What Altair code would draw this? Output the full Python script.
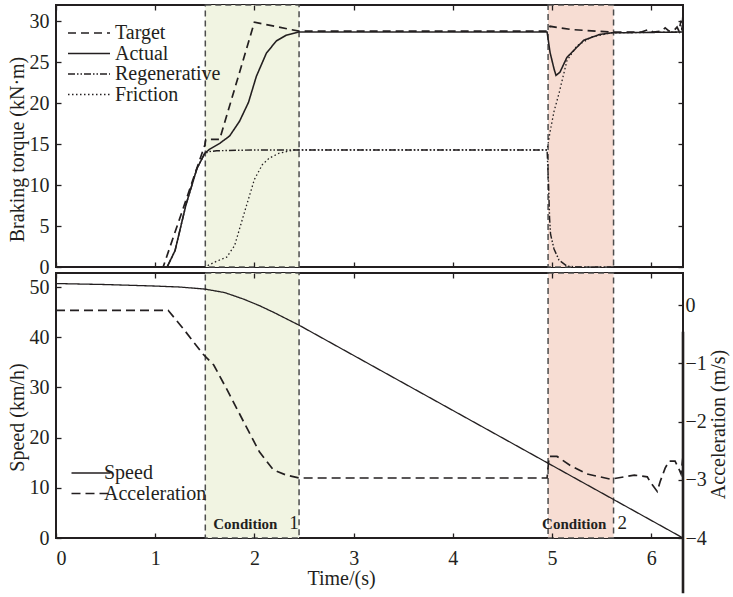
import altair as alt
import pandas as pd

FONT = "Liberation Serif, Times New Roman, serif"
INK = "#231f20"

# ---------------- braking torque (kN·m) ----------------
target_t = [0, 1.08, 1.50, 1.51, 1.65, 2.00, 2.45, 4.95, 4.98, 5.2, 5.6, 5.9, 5.97,
            6.02, 6.1, 6.14, 6.18, 6.23, 6.26, 6.28, 6.30, 6.31, 6.32, 6.32]
target_v = [0, 0, 14.9, 15.6, 15.6, 29.9, 28.8, 28.8, 29.4, 29.0, 28.7, 28.7, 29.0,
            28.7, 28.8, 29.2, 28.8, 28.9, 29.3, 28.8, 30.1, 28.9, 30.9, 19.1]

actual_t = [0, 1.12, 1.2, 1.31, 1.42, 1.5, 1.55, 1.65, 1.75, 1.85, 1.94, 2.02, 2.12,
            2.22, 2.32, 2.45, 4.95, 4.98, 5.02, 5.04, 5.08, 5.15, 5.32, 5.48, 5.6, 6.32]
actual_v = [0, 0, 2.0, 7.6, 12.0, 13.9, 14.4, 15.1, 16.0, 17.8, 20.1, 23.3, 26.1,
            27.6, 28.3, 28.7, 28.7, 26.2, 24.2, 23.4, 23.8, 25.6, 27.7, 28.4, 28.6, 28.7]

regen_t = [0, 1.12, 1.2, 1.31, 1.42, 1.5, 1.55, 1.62, 2.0, 4.95, 4.965, 4.975,
           4.985, 5.02, 5.07, 5.15, 5.25, 6.32]
regen_v = [0, 0, 2.0, 7.6, 12.0, 13.9, 14.1, 14.2, 14.3, 14.3, 10.0, 6.0,
           4.0, 2.2, 0.85, 0.1, 0, 0]

friction_t = [0, 1.5, 1.6, 1.72, 1.8, 1.89, 2.0, 2.08, 2.15, 2.25, 2.4, 4.95, 4.98,
              5.02, 5.07, 5.15, 5.25, 5.4, 5.6, 6.32]
friction_v = [0, 0, 0.6, 1.2, 2.6, 6.3, 10.7, 12.5, 13.3, 13.9, 14.3, 14.3, 16.5,
              19.0, 21.2, 25.2, 27.0, 28.1, 28.6, 28.7]

torque_names = ["Target", "Actual", "Regenerative", "Friction"]
torque_dash = [[8, 5], [1, 0], [7, 2, 1.5, 2, 1.5, 2], [1.5, 2.5]]
torque_width = [1.7, 1.3, 1.3, 1.2]

# ---------------- speed (km/h) and acceleration ----------------
speed_t = [0, 0.5, 1.0, 1.25, 1.5, 1.7, 1.89, 2.05, 2.2, 2.45, 6.32]
speed_v = [50.7, 50.5, 50.2, 50.0, 49.6, 48.9, 47.6, 46.3, 44.9, 42.4, 0]

accel_t = [0, 1.13, 1.28, 1.48, 1.59, 1.72, 1.89, 2.05, 2.19, 2.32, 2.45, 4.95, 4.97,
           5.05, 5.18, 5.35, 5.59, 5.83, 5.96, 5.99, 6.06, 6.09, 6.14, 6.18, 6.24,
           6.28, 6.30, 6.32]
accel_v = [-0.09, -0.09, -0.4, -0.84, -1.03, -1.44, -2.0, -2.52, -2.83, -2.92, -2.97,
           -2.97, -2.6, -2.6, -2.75, -2.9, -2.99, -2.92, -2.95, -3.04, -3.2, -3.03,
           -2.8, -2.68, -2.68, -2.82, -2.9, -2.6]
# final stop: the acceleration trace oscillates over a wide band at the end
accel_tail_t = [6.32, 6.32]
accel_tail_v = [-0.46, -4.95]

kin_names = ["Speed", "Acceleration"]
kin_dash = [[1, 0], [9, 5]]

# ---------------- highlighted operating conditions ----------------
cond_names = ["Condition 1", "Condition 2"]
cond_start = [1.505, 4.96]
cond_end = [2.45, 5.62]
cond_fill = ["#f1f4e2", "#f7ddd3"]
cond_word = ["Condition", "Condition"]
cond_word_t = [1.585, 4.90]
cond_num = ["1", "2"]
cond_num_t = [2.35, 5.66]

# axis ranges and ticks
T_MAX = 6.32
TORQUE_MAX = 32
SPEED_MAX = 52.8
ACC_MIN, ACC_MAX = -4, 0.55
time_ticks = [0, 1, 2, 3, 4, 5, 6]
torque_ticks = [0, 5, 10, 15, 20, 25, 30]
speed_ticks = [0, 10, 20, 30, 40, 50]
accel_ticks = [-4, -3, -2, -1, 0]

PANEL_W = 627


def frame(name, ts, vs):
    return pd.DataFrame({"t": ts, "v": vs, "series": name, "i": range(len(ts))})


torque_df = pd.concat([
    frame("Target", target_t, target_v),
    frame("Actual", actual_t, actual_v),
    frame("Regenerative", regen_t, regen_v),
    frame("Friction", friction_t, friction_v),
], ignore_index=True)
speed_df = frame("Speed", speed_t, speed_v)
accel_df = frame("Acceleration", accel_t, accel_v)
accel_tail_df = frame("Acceleration", accel_tail_t, accel_tail_v)
cond_df = pd.DataFrame({
    "name": cond_names, "start": cond_start, "end": cond_end,
    "word": cond_word, "word_t": cond_word_t, "num": cond_num, "num_t": cond_num_t,
})

x_scale = alt.Scale(domain=[0, T_MAX], nice=False, zero=False)
tq_scale = alt.Scale(domain=[0, TORQUE_MAX], nice=False, zero=False)
sp_scale = alt.Scale(domain=[0, SPEED_MAX], nice=False, zero=False)
ac_scale = alt.Scale(domain=[ACC_MIN, ACC_MAX], nice=False, zero=False)
fill_scale = alt.Scale(domain=cond_names, range=cond_fill)


def inward(orient, values, labels=False, **kw):
    """Axis whose ticks point into the plot area."""
    return alt.Axis(orient=orient, values=values, labels=labels, offset=-5,
                    tickSize=5, domain=False, grid=False, zindex=2, **kw)


def line_legend(x, y, path, label_offset):
    return alt.Legend(title=None, orient="none", legendX=x, legendY=y,
                      symbolType=path, symbolSize=100, symbolStrokeWidth=1.5,
                      symbolStrokeColor=INK, labelFont=FONT, labelFontSize=20,
                      labelColor=INK, labelOffset=label_offset, rowPadding=0.5,
                      padding=0)


rect_style = dict(stroke="#4d4d4d", strokeDash=[6, 4], strokeWidth=1.5)

# ---------------- top panel: braking torque ----------------
rect_top = alt.Chart(cond_df).mark_rect(**rect_style).encode(
    x=alt.X("start:Q", scale=x_scale, axis=inward("top", time_ticks, title=None)),
    x2="end:Q",
    y=alt.YDatum(0, type="quantitative", scale=tq_scale,
                 axis=inward("right", torque_ticks, title=None)),
    y2=alt.datum(TORQUE_MAX),
    fill=alt.Fill("name:N", scale=fill_scale, legend=None),
)

torque_lines = alt.Chart(torque_df).mark_line(color=INK).encode(
    x=alt.X("t:Q", scale=x_scale, axis=inward("bottom", time_ticks, title=None)),
    y=alt.Y("v:Q", scale=tq_scale,
            axis=inward("left", torque_ticks, labels=True, labelPadding=7,
                        title="Braking torque (kN·m)", titlePadding=2, titleY=144)),
    strokeDash=alt.StrokeDash("series:N",
                              scale=alt.Scale(domain=torque_names, range=torque_dash),
                              legend=line_legend(23, 18, "M-4.2,0H4.2", 16)),
    strokeWidth=alt.StrokeWidth("series:N",
                                scale=alt.Scale(domain=torque_names, range=torque_width),
                                legend=None),
    order=alt.Order("i:Q"),
)

top = alt.layer(rect_top, torque_lines).resolve_axis(
    x="independent", y="independent"
).properties(width=PANEL_W, height=262)

# ---------------- bottom panel: speed and acceleration ----------------
kin_dash_scale = alt.Scale(domain=kin_names, range=kin_dash)
kin_legend = line_legend(25, 190, "M-3.9,0H3.9", 3)

rect_bot = alt.Chart(cond_df).mark_rect(**rect_style).encode(
    x=alt.X("start:Q", scale=x_scale, axis=inward("top", time_ticks, title=None)),
    x2="end:Q",
    y=alt.YDatum(0, type="quantitative", scale=sp_scale, axis=None),
    y2=alt.datum(SPEED_MAX),
    fill=alt.Fill("name:N", scale=fill_scale, legend=None),
)

speed_line = alt.Chart(speed_df).mark_line(color=INK, strokeWidth=1.3).encode(
    x=alt.X("t:Q", scale=x_scale,
            axis=inward("bottom", time_ticks, labels=True, labelPadding=10,
                        title="Time/(s)", titlePadding=0, titleX=285)),
    y=alt.Y("v:Q", scale=sp_scale,
            axis=inward("left", speed_ticks, labels=True, labelPadding=7,
                        title="Speed (km/h)", titlePadding=2, titleY=144)),
    strokeDash=alt.StrokeDash("series:N", scale=kin_dash_scale, legend=kin_legend),
    order=alt.Order("i:Q"),
)

accel_line = alt.Chart(accel_df).mark_line(color=INK, strokeWidth=1.7, clip=False).encode(
    x=alt.X("t:Q", scale=x_scale, axis=None),
    y=alt.Y("v:Q", scale=ac_scale,
            axis=inward("right", accel_ticks, labels=True, labelPadding=2,
                        title="Acceleration (m/s)", titleAngle=270,
                        titleBaseline="top", titlePadding=2, titleY=151)),
    strokeDash=alt.StrokeDash("series:N", scale=kin_dash_scale, legend=kin_legend),
    order=alt.Order("i:Q"),
)

accel_tail = alt.Chart(accel_tail_df).mark_line(color=INK, strokeWidth=2.6, clip=False).encode(
    x=alt.X("t:Q", scale=x_scale, axis=None),
    y=alt.Y("v:Q", scale=ac_scale, axis=None),
    order=alt.Order("i:Q"),
)

cond_words = alt.Chart(cond_df).mark_text(
    font=FONT, fontSize=15, fontWeight="bold", color=INK, align="left",
    baseline="alphabetic",
).encode(
    x=alt.X("word_t:Q", scale=x_scale, axis=None),
    y=alt.YDatum(1.8, type="quantitative", scale=sp_scale, axis=None),
    text="word:N",
)

cond_nums = alt.Chart(cond_df).mark_text(
    font=FONT, fontSize=19, color=INK, align="left", baseline="alphabetic",
).encode(
    x=alt.X("num_t:Q", scale=x_scale, axis=None),
    y=alt.YDatum(1.8, type="quantitative", scale=sp_scale, axis=None),
    text="num:N",
)

bottom = alt.layer(
    rect_bot, speed_line, accel_line, accel_tail, cond_words, cond_nums
).resolve_scale(y="independent").resolve_axis(x="independent").properties(
    width=PANEL_W, height=265
)

chart = alt.vconcat(top, bottom, spacing=6, bounds="flush").resolve_scale(
    x="independent", y="independent", strokeDash="independent",
    strokeWidth="independent", fill="independent",
).properties(
    padding={"left": 6, "top": 3, "right": 0, "bottom": 0},
    background="white",
).configure_view(
    stroke=INK, strokeWidth=2,
).configure_axis(
    labelFont=FONT, labelFontSize=20, labelColor=INK,
    titleFont=FONT, titleFontSize=20, titleFontWeight="normal", titleColor=INK,
    tickColor=INK, tickWidth=1.3,
)

chart.save("out.html", embed_options={"renderer": "svg", "actions": False})
